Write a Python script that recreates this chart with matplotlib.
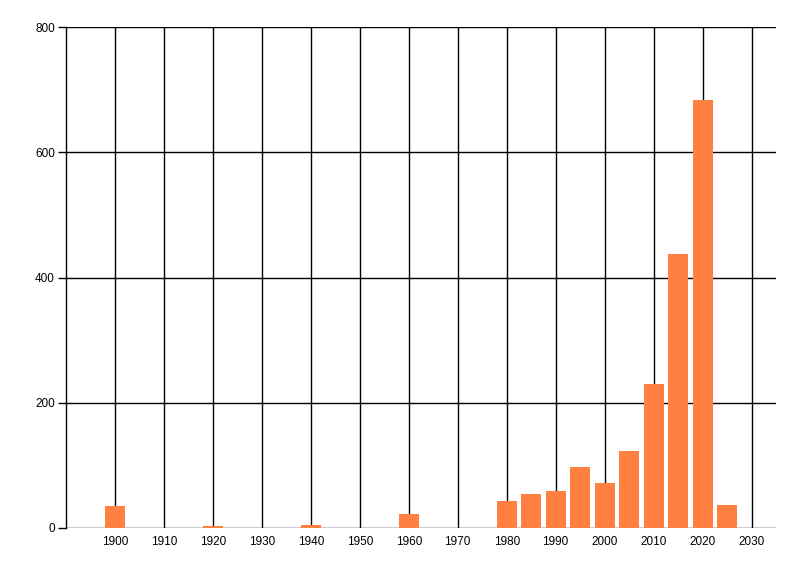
import matplotlib
matplotlib.use("Agg")
import matplotlib.pyplot as plt

years = [1900, 1920, 1940, 1960, 1980, 1985, 1990, 1995, 2000, 2005, 2010, 2015, 2020, 2025]
counts = [35, 3, 5, 22, 43, 54, 59, 97, 72, 123, 230, 437, 683, 37]
x_ticks = list(range(1900, 2031, 10))
y_ticks = [0, 200, 400, 600, 800]

plt.rcParams['font.family'] = ['Liberation Sans', 'DejaVu Sans']

fig = plt.figure(figsize=(8, 5.76), dpi=100)
ax = fig.add_axes([66 / 800, 1 - 528 / 576, 710 / 800, 501 / 576])

ax.bar(years, counts, width=4.1, color='#FF8040', zorder=3)

ax.set_xlim(1890, 2035)
ax.set_ylim(0, 800)
ax.set_xticks(x_ticks)
ax.set_yticks(y_ticks)
ax.grid(True, color='black', linewidth=1, zorder=1)
ax.set_axisbelow(True)

for side in ['top', 'right', 'bottom']:
    ax.spines[side].set_visible(False)
ax.spines['left'].set_linewidth(1)

ax.tick_params(axis='x', length=0, pad=6, labelsize=8.5)
ax.tick_params(axis='y', length=6, width=1, pad=2, labelsize=8.5)

fig.savefig('out.png', dpi=100)
